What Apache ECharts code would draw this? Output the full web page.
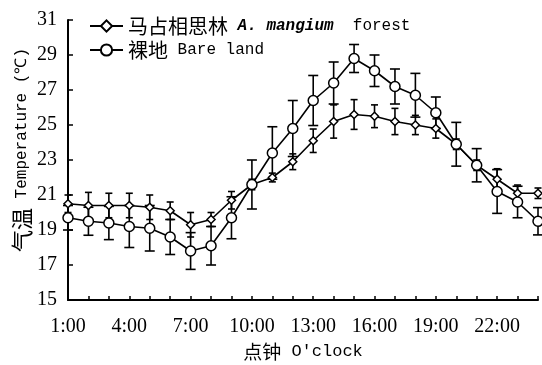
<!DOCTYPE html>
<html><head><meta charset="utf-8">
<script src="https://cdn.jsdelivr.net/npm/echarts@6/dist/echarts.min.js"></script>
<style>html,body{margin:0;padding:0;background:#fff}#c{width:542px;height:365px}</style>
</head><body><div id="c"></div>
<script>
const hours = ['1:00','2:00','3:00','4:00','5:00','6:00','7:00','8:00','9:00','10:00','11:00','12:00','13:00','14:00','15:00','16:00','17:00','18:00','19:00','20:00','21:00','22:00','23:00','24:00'];
const forestMean = [20.5,20.4,20.4,20.4,20.3,20.1,19.3,19.6,20.7,21.6,22.0,22.9,24.1,25.2,25.6,25.5,25.2,25.0,24.8,23.9,22.7,21.9,21.1,21.1];
const forestSD   = [0.5,0.75,0.7,0.7,0.7,0.5,0.7,0.4,0.5,0.3,0.25,0.45,0.67,0.95,0.85,0.65,0.75,0.55,0.55,0.3,0.3,0.6,0.47,0.3];
const bareMean   = [19.7,19.5,19.4,19.2,19.1,18.6,17.8,18.1,19.7,21.6,23.4,24.8,26.4,27.4,28.8,28.1,27.2,26.7,25.7,23.9,22.7,21.2,20.6,19.5];
const bareSD     = [0.7,0.8,0.95,1.2,1.3,1.0,1.05,1.1,1.2,1.4,1.5,1.6,1.43,1.2,0.8,0.9,1.0,1.25,0.9,1.25,0.95,1.25,0.9,0.78];
const yTicks = [15,17,19,21,23,25,27,29,31];

const serif = 'Liberation Serif';
const mono = 'Liberation Mono';
const cjk = 'Noto Sans CJK SC';

function errData(mean, sd){ return mean.map((m,i)=>[i, m-sd[i], m+sd[i]]); }
function errSeries(mean, sd, capHalf){
  return {
    type:'custom', z:1, silent:true, clip:false,
    data: errData(mean, sd),
    renderItem: function(params, api){
      const lo = api.coord([api.value(0), api.value(1)]);
      const hi = api.coord([api.value(0), api.value(2)]);
      const st = {stroke:'#000', lineWidth:1.6};
      return {type:'group', children:[
        {type:'line', shape:{x1:lo[0],y1:lo[1],x2:hi[0],y2:hi[1]}, style:st},
        {type:'line', shape:{x1:lo[0]-capHalf,y1:lo[1],x2:lo[0]+capHalf,y2:lo[1]}, style:st},
        {type:'line', shape:{x1:hi[0]-capHalf,y1:hi[1],x2:hi[0]+capHalf,y2:hi[1]}, style:st}
      ]};
    }
  };
}

const chart = echarts.init(document.getElementById('c'));
chart.setOption({
  animation:false,
  backgroundColor:'#fff',
  grid:{left:68, right:4, top:20, bottom:65, containLabel:false, outerBoundsMode:'none'},
  legend:{
    left:84, top:11, orient:'vertical', itemGap:4, itemWidth:33, itemHeight:14,
    data:['forest','bare'],
    formatter: function(n){
      return n==='forest' ? '{c|马占相思林}{m| }{i|A. mangium}{m|  forest}' : '{c|裸地}{m| Bare land}';
    },
    textStyle:{
      color:'#000',
      rich:{
        c:{fontFamily:cjk, fontSize:20, lineHeight:16, color:'#000'},
        i:{fontFamily:mono, fontSize:16, lineHeight:16, fontStyle:'italic', fontWeight:'bold', color:'#000'},
        m:{fontFamily:mono, fontSize:16, lineHeight:16, color:'#000'}
      }
    }
  },
  xAxis:{
    type:'category', data:hours, boundaryGap:false,
    name:"{c|点钟}{m| O'clock}", nameLocation:'middle', nameGap:42, nameMoveOverlap:false,
    nameTextStyle:{rich:{c:{fontFamily:cjk,fontSize:19,color:'#000'},m:{fontFamily:mono,fontSize:17,color:'#000'}}},
    axisLine:{lineStyle:{color:'#000', width:2}},
    axisTick:{inside:true, length:4, interval:0, lineStyle:{color:'#000', width:1.5}},
    axisLabel:{interval:2, color:'#000', fontFamily:serif, fontSize:20, margin:17},
    splitLine:{show:false}
  },
  yAxis:{
    type:'value', min:yTicks[0], max:yTicks[yTicks.length-1], interval:2,
    name:'{c|气温}{m| Temperature (℃)}', nameLocation:'middle', nameGap:35, nameRotate:90, nameMoveOverlap:false,
    nameTextStyle:{padding:[0,0,0,20], rich:{c:{fontFamily:cjk,fontSize:22,color:'#000'},m:{fontFamily:mono,fontSize:16,color:'#000'}}},
    axisLine:{show:true, lineStyle:{color:'#000', width:2}},
    axisTick:{show:true, inside:true, length:5, lineStyle:{color:'#000', width:1.5}},
    axisLabel:{color:'#000', fontFamily:serif, fontSize:20, margin:11},
    splitLine:{show:false}
  },
  series:[
    errSeries(forestMean, forestSD, 3.5),
    errSeries(bareMean, bareSD, 5),
    {name:'forest', type:'line', z:3, data:forestMean, clip:false,
     symbol:'diamond', symbolSize:8, showSymbol:true,
     lineStyle:{color:'#000', width:1.6},
     itemStyle:{color:'#fff', borderColor:'#000', borderWidth:1.5}},
    {name:'bare', type:'line', z:3, data:bareMean, clip:false,
     symbol:'circle', symbolSize:10, showSymbol:true,
     lineStyle:{color:'#000', width:1.6},
     itemStyle:{color:'#fff', borderColor:'#000', borderWidth:1.5}}
  ]
});
</script></body></html>
